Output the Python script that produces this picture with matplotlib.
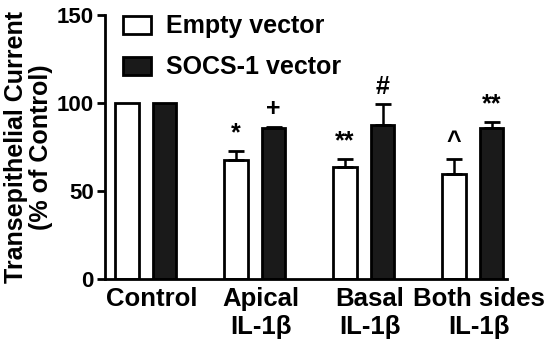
import matplotlib
matplotlib.use("Agg")
import matplotlib.pyplot as plt
from matplotlib.patches import Patch
import numpy as np

categories = ["Control", "Apical\nIL-1β", "Basal\nIL-1β", "Both sides\nIL-1β"]
series_names = ["Empty vector", "SOCS-1 vector"]
empty_vals = [100, 67.5, 63.5, 59.5]
empty_err = [0, 5.2, 4.7, 8.5]
socs_vals = [100, 86.0, 87.5, 86.0]
socs_err = [0, 0.6, 11.9, 3.2]
empty_sig = ["", "*", "**", "^"]
socs_sig = ["", "+", "#", "**"]
yticks = [0, 50, 100, 150]

plt.rcParams['font.family'] = ['Liberation Sans', 'DejaVu Sans']
plt.rcParams['font.weight'] = 'bold'

fig = plt.figure(figsize=(5.5, 3.46), dpi=100)
ax = fig.add_axes([105/550, 1-279/346, (507-105)/550, (279-15)/346])

x = np.arange(len(categories))
off = 0.172
w = 0.215
lw = 2.0

ax.bar(x - off, empty_vals, w, color='white', edgecolor='black', linewidth=lw, zorder=2)
ax.bar(x + off, socs_vals, w, color='#1a1a1a', edgecolor='black', linewidth=lw, zorder=2)

for xs, vals, errs in [(x - off, empty_vals, empty_err), (x + off, socs_vals, socs_err)]:
    for xi, v, e in zip(xs, vals, errs):
        if e > 0:
            ax.errorbar(xi, v, yerr=[[0], [e]], fmt='none', ecolor='black',
                        elinewidth=1.8, capsize=5.5, capthick=2.0, zorder=3)

for xs, vals, errs, sigs in [(x - off, empty_vals, empty_err, empty_sig),
                             (x + off, socs_vals, socs_err, socs_sig)]:
    for xi, v, e, s in zip(xs, vals, errs, sigs):
        if s:
            ax.annotate(s, (xi, v + e), xytext=(0, 4), textcoords='offset points',
                        ha='center', va='bottom', fontsize=18, fontweight='bold')

ax.set_xlim(-0.374, 3.314)
ax.set_ylim(0, 150)
ax.set_yticks(yticks)
ax.set_yticklabels([str(t) for t in yticks], fontsize=16, fontweight='bold')
ax.set_xticks(x + 0.055)
ax.set_xticklabels(categories, fontsize=18.5, fontweight='bold', linespacing=1.2)
ax.tick_params(axis='x', length=0, pad=6)
ax.tick_params(axis='y', length=6, width=2.0, pad=2)
for s in ['top', 'right']:
    ax.spines[s].set_visible(False)
for s in ['left', 'bottom']:
    ax.spines[s].set_linewidth(2.0)

ax.set_ylabel("Transepithelial Current\n(% of Control)", fontsize=18, fontweight='bold',
              linespacing=1.05, labelpad=3)

handles = [Patch(facecolor='white', edgecolor='black', linewidth=lw),
           Patch(facecolor='#1a1a1a', edgecolor='black', linewidth=lw)]
ax.legend(handles, series_names, loc='upper left', bbox_to_anchor=(0.02, 1.04),
          frameon=False, prop={'size': 18, 'weight': 'bold'},
          handlelength=1.1, handleheight=0.72, handletextpad=0.6, labelspacing=0.68,
          borderaxespad=0)

fig.savefig("out.png", dpi=100)
